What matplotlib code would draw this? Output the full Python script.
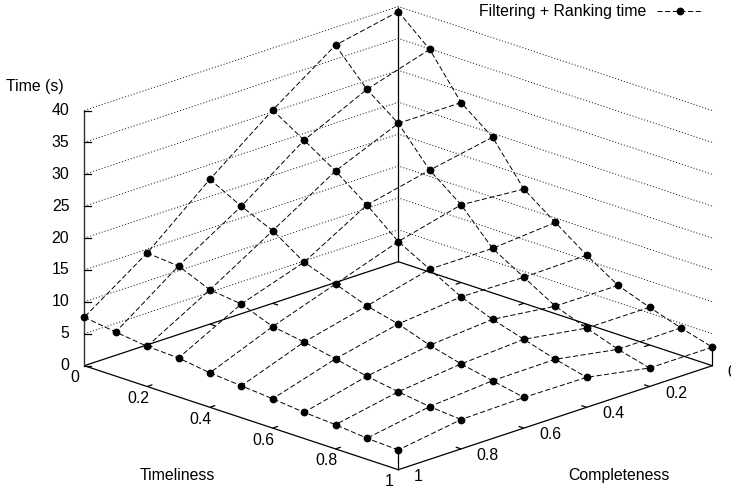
import matplotlib
matplotlib.use("Agg")
import matplotlib.pyplot as plt
import numpy as np

plt.rcParams['font.family'] = ['Liberation Sans', 'DejaVu Sans']
plt.rcParams['lines.scale_dashes'] = False

timeliness = [0, 0.1, 0.2, 0.3, 0.4, 0.5, 0.6, 0.7, 0.8, 0.9, 1]
completeness = [0, 0.2, 0.4, 0.6, 0.8, 1]
time_c00 = [39.2, 34.9, 28.2, 24.4, 17.9, 14.3, 10.8, 7.7, 5.9, 4.3, 2.9]
time_c02 = [37.2, 31.9, 28.2, 22.5, 18.7, 13.5, 10.6, 7.7, 5.9, 4.2, 2.9]
time_c04 = [30.3, 27.2, 24.0, 20.3, 16.2, 13.5, 10.8, 8.9, 7.4, 5.9, 4.7]
time_c06 = [22.7, 20.1, 17.9, 14.6, 12.8, 11.0, 9.8, 8.1, 6.8, 5.8, 4.8]
time_c08 = [14.4, 14.0, 11.9, 11.3, 9.4, 8.6, 7.6, 6.5, 5.7, 5.0, 4.6]
time_c10 = [7.6, 6.9, 6.3, 6.1, 5.4, 5.0, 4.6, 4.1, 3.8, 3.3, 3.1]
z_ticks = [0, 5, 10, 15, 20, 25, 30, 35, 40]
t_ticks = [0, 0.2, 0.4, 0.6, 0.8, 1]
c_ticks = [0, 0.2, 0.4, 0.6, 0.8, 1]
t_labels = ['0', '0.2', '0.4', '0.6', '0.8', '1']
c_labels = ['0', '0.2', '0.4', '0.6', '0.8', '1']
z_labels = ['0', '5', '10', '15', '20', '25', '30', '35', '40']
series_name = 'Filtering + Ranking time'

Z = np.array([time_c00, time_c02, time_c04, time_c06, time_c08, time_c10])
T = np.array(timeliness)
C = np.array(completeness)


def proj(t, c, z=0.0):
    t, c, z = np.asarray(t, float), np.asarray(c, float), np.asarray(z, float)
    return 398.3 + 314.0 * (t - c), 261.7 + 104.0 * (t + c) - 6.38 * z


W, H = 731, 492
fig = plt.figure(figsize=(W / 100, H / 100), dpi=100)
ax = fig.add_axes([0, 0, 1, 1])
ax.set_xlim(0, W)
ax.set_ylim(H, 0)
ax.axis('off')


def seg(t, c, z, **kw):
    x, y = proj(t, c, z)
    ax.plot(x, y, solid_capstyle='butt', clip_on=False, **kw)


DOT = dict(color='#111111', lw=0.65, dashes=(0.8, 1.4))
SOL = dict(color='black', lw=0.9)
DASH = dict(color='black', lw=0.7, dashes=(3.7, 1.8))
FS = 11.4
MS = 5.6

# dotted grid on the back walls
for z in z_ticks[1:]:
    seg([0, 0, 1], [1, 0, 0], [z, z, z], **DOT)

# base and vertical borders
seg([0, 0, 1], [1, 0, 0], [0, 0, 0], **SOL)
seg([0, 1, 1], [1, 1, 0], [0, 0, 0], **SOL)
seg([0, 0], [1, 1], [0, 40], color='#333333', lw=1.0)
seg([0, 0], [0, 0], [0, 40], **SOL)
seg([1, 1], [1, 1], [0, Z[5, 10]], **SOL)
seg([1, 1], [0, 0], [0, Z[0, 10]], **SOL)

# ticks
for t, lab in zip(t_ticks, t_labels):
    if 0 < t < 1:
        seg([t, t], [1, 0.983], [0, 0], **SOL)
        seg([t, t], [0, 0.017], [0, 0], **SOL)
    x, y = proj(t, 1)
    ax.text(x - 9, y + 12, lab, fontsize=FS, ha='center', va='center')
for c, lab in zip(c_ticks, c_labels):
    if 0 < c < 1:
        seg([1, 0.983], [c, c], [0, 0], **SOL)
        seg([0, 0.017], [c, c], [0, 0], **SOL)
    x, y = proj(1, c)
    ax.text(x + 15.5, y + 6.5, lab, fontsize=FS, ha='left', va='center', clip_on=False)
for z, lab in zip(z_ticks, z_labels):
    x, y = proj(0, 1, z)
    ax.plot([x, x + 6.5], [y, y + 0.0], **SOL)
    ax.text(x - 15, y, lab, fontsize=FS, ha='right', va='center')

# surface lines
for i in range(len(C)):
    x, y = proj(T, C[i], Z[i])
    ax.plot(x, y, **DASH)
for j in range(len(T)):
    x, y = proj(T[j], C, Z[:, j])
    ax.plot(x, y, **DASH)
for i in range(len(C)):
    x, y = proj(T, C[i], Z[i])
    ax.plot(x, y, ls='none', marker='o', ms=MS, mfc='black', mec='black', mew=0, zorder=5)

# labels
ax.text(177.7, 475.7, 'Timeliness', fontsize=FS, ha='center', va='center')
ax.text(619.3, 475.7, 'Completeness', fontsize=FS, ha='center', va='center')
ax.text(6, 86.7, 'Time (s)', fontsize=FS, ha='left', va='center')

# legend
ax.text(646, 11.5, series_name, fontsize=FS, ha='right', va='center')
ax.plot([657, 703], [11.3, 11.3], **DASH)
ax.plot([680], [11.3], ls='none', marker='o', ms=MS, mfc='black', mew=0, zorder=5)

fig.savefig('out.png', dpi=100)
